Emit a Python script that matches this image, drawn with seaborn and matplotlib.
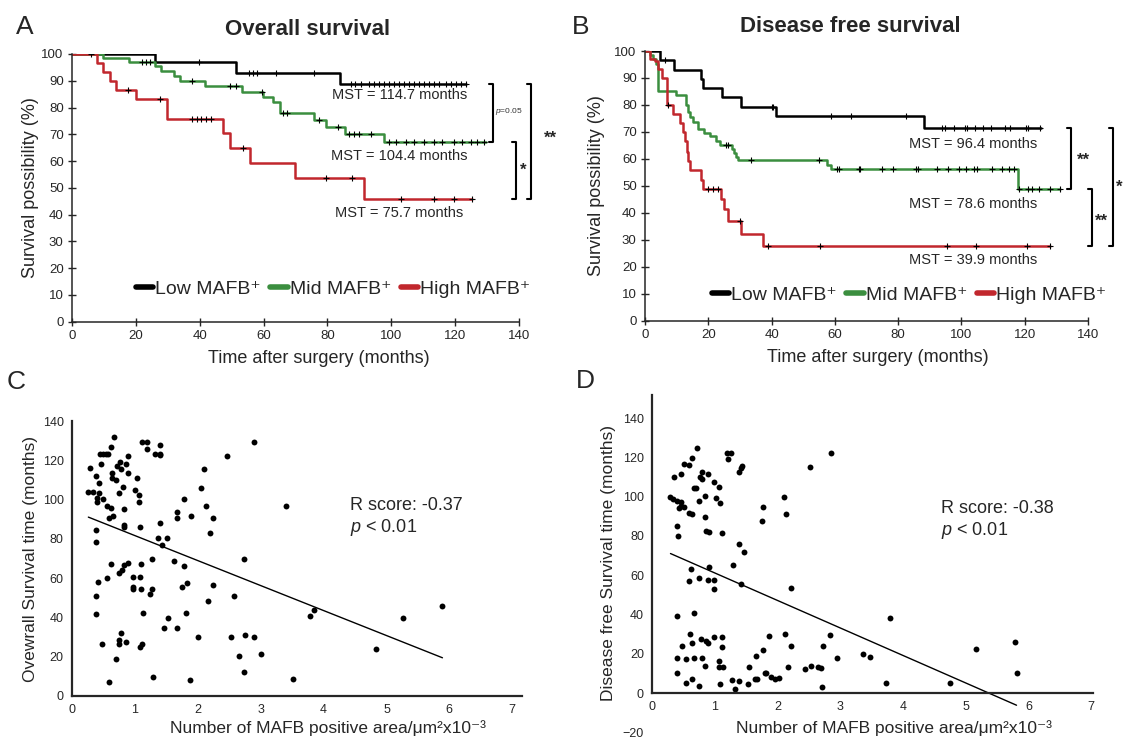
import numpy as np
import pandas as pd
import matplotlib
matplotlib.use('Agg')
import matplotlib.pyplot as plt
import seaborn as sns

# ---- panel A: overall survival (step times in months, survival in %) ----
os_low_t = [0, 25.9, 51.5, 83.8, 123.5]
os_low_s = [100, 96.9, 92.9, 88.7, 88.7]
os_low_cens = [39.8, 55.4, 56.7, 57.9, 63.8, 75.9, 87.4, 88.6, 90.5, 93.1, 94.7, 96.3, 97.8,
               99.4, 100.9, 102.5, 104.1, 105.6, 107.2, 108.8, 110.3, 111.9, 113.4, 115.0,
               117.1, 118.6, 120.2, 121.8, 123.3]

os_mid_t = [0, 9.6, 17.9, 25.9, 28.0, 32.0, 33.8, 41.8, 53.3, 59.8, 62.9, 65.2, 75.9, 79.6,
            85.5, 97.6, 129.6]
os_mid_s = [100, 98.5, 96.9, 95.4, 93.8, 91.9, 89.9, 88.0, 85.8, 83.9, 82.0, 77.8, 75.3, 72.7,
            70.2, 67.1, 67.1]
os_mid_cens = [21.8, 23.1, 24.4, 37.7, 49.6, 51.5, 59.6, 66.0, 67.4, 77.5, 83.2, 86.9, 88.4,
               90.0, 93.6, 99.4, 101.5, 104.6, 107.2, 110.3, 113.4, 116.0, 119.7, 122.3, 124.9,
               127.0, 129.1]

os_high_t = [0, 7.7, 9.6, 11.9, 13.8, 20.2, 29.9, 47.3, 49.6, 55.6, 69.9, 91.4, 125.4]
os_high_s = [100, 96.7, 93.4, 90.0, 86.7, 83.3, 75.6, 70.4, 64.9, 59.3, 53.6, 45.9, 45.9]
os_high_cens = [5.8, 17.6, 27.5, 37.6, 39.0, 40.5, 42.1, 43.6, 53.5, 79.4, 87.7, 103.0, 113.4,
                119.7, 125.4]

# ---- panel B: disease free survival ----
dfs_low_t = [0, 4.7, 9.2, 17.6, 18.2, 24.4, 30.4, 41.4, 88.3, 125.0]
dfs_low_s = [100, 96.6, 93.1, 89.7, 86.2, 82.8, 79.3, 75.8, 71.6, 71.6]
dfs_low_cens = [6.3, 40.1, 40.6, 58.7, 65.0, 82.6, 93.8, 94.9, 97.5, 101.2, 101.7, 104.3, 106.9,
                109.5, 113.7, 115.3, 120.5, 121.1, 124.7]

dfs_mid_t = [0, 1.5, 2.6, 3.4, 4.1, 9.8, 12.9, 13.7, 14.3, 15.2, 16.9, 18.6, 20.4, 22.4, 23.8,
             27.5, 28.1, 28.9, 29.5, 57.6, 58.7, 117.8, 131.0]
dfs_mid_s = [100, 98.5, 97.0, 95.0, 85.1, 83.5, 79.8, 77.5, 75.5, 73.5, 71.0, 69.7, 68.3, 66.5,
             65.0, 63.5, 62.0, 60.5, 59.6, 57.8, 56.2, 48.8, 48.8]
dfs_mid_cens = [25.5, 26.3, 33.5, 54.9, 60.6, 61.3, 67.5, 68.0, 75.0, 78.5, 85.6, 86.2, 92.4,
                95.8, 99.3, 101.6, 104.1, 105.0, 109.6, 112.8, 115.0, 116.7, 118.2, 121.0,
                122.2, 124.5, 127.9, 131.0]

dfs_high_t = [0, 1.5, 3.1, 4.1, 5.5, 6.9, 8.9, 11.0, 12.0, 12.6, 13.2, 13.7, 14.2, 17.6, 18.3,
              24.1, 24.9, 26.1, 30.3, 37.3, 127.9]
dfs_high_s = [100, 97.0, 96.4, 93.5, 90.0, 80.0, 76.6, 73.3, 70.0, 66.6, 62.5, 59.2, 55.8, 52.3,
              48.8, 45.0, 41.4, 37.0, 32.0, 27.5, 27.5]
dfs_high_cens = [7.4, 19.8, 21.5, 23.2, 30.1, 38.9, 55.3, 95.3, 104.5, 120.8, 127.9]

groups = ['Low MAFB⁺', 'Mid MAFB⁺', 'High MAFB⁺']
colors = ['#000000', '#3b8e3f', '#c1272d']
os_mst = ['MST = 114.7 months', 'MST = 104.4 months', 'MST = 75.7 months']
dfs_mst = ['MST = 96.4 months', 'MST = 78.6 months', 'MST = 39.9 months']

# ---- panel C: MAFB area vs overall survival time ----
c_x = [0.67, 1.12, 1.20, 2.90, 1.40, 0.62, 1.19, 0.45, 0.50, 0.54, 0.58, 1.32, 1.40, 1.40, 0.89,
       2.46, 0.46, 0.76, 0.86, 0.72, 0.78, 0.29, 2.10, 0.64, 0.89, 0.38, 0.43, 0.64, 0.70, 1.03,
       0.81, 0.43, 0.74, 0.26, 0.33, 1.00, 1.06, 2.05, 0.39, 0.39, 0.49, 1.07, 0.83, 0.56, 0.62,
       0.59, 0.65, 1.78, 2.13, 1.67, 1.67, 1.89, 2.24, 0.83, 0.83, 1.08, 1.40, 0.38, 0.38, 2.19,
       1.37, 1.51, 1.43, 1.27, 1.62, 1.78, 2.73, 0.62, 0.74, 0.80, 0.83, 0.89, 1.10, 0.97, 1.08,
       0.97, 0.97, 1.10, 1.27, 1.24, 0.56, 0.42, 1.75, 1.83, 2.24, 2.57, 2.16, 0.38, 0.38, 1.13,
       1.81, 1.53, 1.46, 1.67, 0.48, 0.74, 0.74, 0.78, 0.86, 1.08, 1.11, 2.00, 2.53, 2.75, 2.89,
       2.66, 3.00, 0.70, 2.73, 1.29, 1.87, 0.59, 3.40, 3.79, 3.84, 5.27, 5.89, 4.84, 3.51]
c_y = [132.0, 129.5, 129.5, 129.5, 127.8, 126.8, 125.9, 123.4, 123.4, 123.4, 123.4, 123.4, 123.4,
       122.5, 122.3, 122.3, 118.1, 119.0, 118.1, 117.3, 115.4, 116.2, 115.4, 113.7, 113.7, 112.0,
       108.6, 110.8, 110.0, 111.0, 106.6, 103.2, 103.2, 104.0, 104.0, 104.9, 102.3, 105.7, 100.6,
       98.9, 100.5, 98.8, 95.2, 96.9, 95.9, 90.8, 91.6, 100.5, 96.9, 93.5, 90.8, 91.6, 90.8, 87.1,
       86.2, 86.2, 88.2, 84.5, 78.4, 82.8, 80.3, 80.3, 76.9, 69.7, 68.7, 66.2, 69.7, 67.0, 62.6,
       64.1, 66.7, 67.7, 67.0, 60.7, 60.7, 55.7, 54.6, 54.5, 54.5, 51.9, 59.9, 58.2, 55.5, 57.4,
       56.3, 51.1, 48.4, 51.1, 41.6, 42.4, 42.4, 39.7, 34.4, 34.4, 26.5, 28.5, 26.5, 31.9, 27.3,
       24.8, 26.3, 30.0, 30.0, 30.9, 30.0, 20.4, 21.2, 18.7, 12.4, 9.8, 8.1, 7.1, 96.9, 40.6, 43.8,
       39.5, 45.8, 23.8, 8.8]

# ---- panel D: MAFB area vs disease free survival time ----
d_x = [0.71, 1.19, 1.25, 1.20, 0.64, 0.50, 0.58, 1.38, 1.43, 1.42, 0.34, 0.46, 0.80, 0.76, 0.89,
       0.79, 0.98, 1.06, 1.08, 0.66, 0.70, 0.29, 0.33, 0.39, 0.46, 0.46, 0.42, 0.51, 0.58, 0.64,
       0.75, 0.84, 1.02, 0.84, 0.85, 0.90, 0.40, 0.41, 1.11, 2.10, 2.13, 1.77, 1.75, 1.39, 1.47,
       0.90, 1.29, 0.62, 0.59, 0.74, 0.89, 0.99, 0.99, 1.41, 2.22, 0.40, 0.66, 0.60, 0.47, 0.53,
       0.66, 0.79, 0.84, 0.40, 0.40, 0.63, 0.77, 0.85, 0.89, 0.98, 1.11, 1.11, 1.07, 1.07, 1.12,
       0.54, 0.63, 0.75, 1.08, 1.27, 1.32, 1.39, 1.52, 1.54, 1.64, 1.67, 1.65, 1.77, 1.79, 1.81,
       1.86, 1.89, 1.96, 2.02, 2.12, 2.17, 2.22, 2.44, 2.53, 2.64, 2.69, 2.73, 2.83, 2.95, 2.71,
       2.85, 2.51, 3.79, 3.36, 3.47, 3.73, 4.75, 5.17, 5.79, 5.81]
d_y = [124.6, 122.1, 122.1, 119.0, 119.5, 116.6, 116.1, 112.3, 115.7, 114.7, 109.8, 111.3, 112.3,
       110.1, 111.5, 109.1, 107.6, 104.7, 96.9, 104.5, 104.2, 99.9, 98.8, 97.7, 97.4, 95.2, 94.3,
       94.5, 91.5, 91.0, 97.6, 100.5, 99.1, 89.8, 82.6, 81.8, 85.2, 80.1, 81.6, 99.6, 91.0, 94.5,
       87.7, 75.7, 71.9, 64.3, 65.3, 63.0, 57.2, 58.5, 57.5, 57.5, 52.9, 55.7, 53.5, 39.2, 40.7,
       29.9, 24.1, 17.3, 18.0, 17.6, 13.9, 17.6, 10.0, 25.3, 27.3, 26.6, 25.6, 28.3, 28.7, 23.6,
       16.5, 13.1, 13.4, 5.3, 7.0, 3.7, 4.4, 6.6, 1.9, 6.3, 4.4, 13.1, 7.3, 7.0, 18.7, 21.9, 10.4,
       10.4, 29.0, 8.0, 7.0, 7.5, 29.9, 13.1, 23.9, 12.0, 13.9, 13.1, 12.6, 24.1, 29.5, 17.6, 2.9,
       122.1, 114.9, 38.0, 19.7, 18.2, 5.3, 5.3, 22.2, 25.8, 10.0]

sns.set_style('ticks')
plt.rcParams['font.family'] = ['Liberation Sans', 'DejaVu Sans']
plt.rcParams['mathtext.fontset'] = 'custom'
plt.rcParams['mathtext.rm'] = 'Liberation Sans'
plt.rcParams['mathtext.it'] = 'Liberation Sans:italic'

W, H = 1127, 740
fig = plt.figure(figsize=(W / 100, H / 100), dpi=100)


def px_axes(left, top, right, bottom):
    return fig.add_axes([left / W, 1 - bottom / H, (right - left) / W, (bottom - top) / H])


def km(ax, t, s, cens, color, label):
    df = pd.DataFrame({'months': t, 'surv': s})
    sns.lineplot(data=df, x='months', y='surv', drawstyle='steps-post', estimator=None,
                 sort=False, color=color, linewidth=1.8, label=label, ax=ax)
    cy = np.asarray(s)[np.searchsorted(t, cens, side='right') - 1]
    ax.plot(cens, cy, ls='none', marker='+', ms=5, mew=0.8, color='black', zorder=5)


def bracket(ax, x, y1, y2, d=1.3):
    ax.plot([x - d, x, x, x - d], [y1, y1, y2, y2], color='black', lw=1.5, clip_on=False)


def km_panel(ax, curves, msts, mst_x, mst_y, title, title_x, leg_xy):
    for (t, s, c), col, lab in zip(curves, colors, groups):
        km(ax, t, s, c, col, lab)
    ax.set_xlim(0, 140)
    ax.set_ylim(0, 100)
    ax.set_xticks(range(0, 141, 20))
    ax.set_yticks(range(0, 101, 10))
    ax.tick_params(direction='inout', length=6, width=1, labelsize=9.5, pad=3)
    sns.despine(ax=ax)
    for sp in ['left', 'bottom']:
        ax.spines[sp].set_linewidth(1.1)
    for txt, yy in zip(msts, mst_y):
        ax.text(mst_x, yy, txt, ha='center', va='center', fontsize=10.5)
    ax.set_xlabel('Time after surgery (months)', fontsize=13)
    ax.set_ylabel('Survival possibility (%)', fontsize=13)
    ax.text(title_x, 1.09, title, transform=ax.transAxes, ha='center', va='center',
            fontsize=16, fontweight='bold')
    leg = ax.legend(loc='center', bbox_to_anchor=leg_xy, ncol=3, frameon=False, fontsize=14,
                    handlelength=0.9, handletextpad=0.1, columnspacing=0.5, borderaxespad=0)
    for h in leg.legend_handles:
        h.set_linewidth(4)


# panel A
axA = px_axes(72, 54, 519, 321.5)
km_panel(axA, [(os_low_t, os_low_s, os_low_cens), (os_mid_t, os_mid_s, os_mid_cens),
               (os_high_t, os_high_s, os_high_cens)],
         os_mst, 102.5, [84.7, 62.0, 40.6], 'Overall survival', 0.526, (0.584, 0.121))
axA.xaxis.set_label_coords(0.553, -0.107)
axA.yaxis.set_label_coords(-0.074, 0.5)
a_end = [os_low_s[-1], os_mid_s[-1], os_high_s[-1]]
bracket(axA, 131.9, a_end[0], a_end[1])
bracket(axA, 139.1, a_end[1], a_end[2])
bracket(axA, 143.9, a_end[0], a_end[2])
axA.text(136.7, 78.5, '$p$=0.05', fontsize=6, ha='center', va='center', color='#333333')
axA.text(141.2, 56.5, '*', fontsize=12, ha='center', va='center', fontweight='bold')
axA.text(149.8, 68.5, '**', fontsize=12, ha='center', va='center', fontweight='bold')

# panel B
axB = px_axes(645, 51, 1088, 320.5)
km_panel(axB, [(dfs_low_t, dfs_low_s, dfs_low_cens), (dfs_mid_t, dfs_mid_s, dfs_mid_cens),
               (dfs_high_t, dfs_high_s, dfs_high_cens)],
         dfs_mst, 103.7, [65.5, 43.1, 22.4], 'Disease free survival', 0.463, (0.596, 0.095))
axB.xaxis.set_label_coords(0.526, -0.106)
axB.yaxis.set_label_coords(-0.09, 0.5)
b_end = [dfs_low_s[-1], dfs_mid_s[-1], dfs_high_s[-1]]
bracket(axB, 134.7, b_end[0], b_end[1])
bracket(axB, 141.2, b_end[1], b_end[2])
bracket(axB, 147.8, b_end[0], b_end[2])
axB.text(138.6, 59.5, '**', fontsize=12, ha='center', va='center', fontweight='bold')
axB.text(144.2, 37.0, '**', fontsize=12, ha='center', va='center', fontweight='bold')
axB.text(149.8, 49.5, '*', fontsize=12, ha='center', va='center', fontweight='bold')


def scatter_panel(ax, x, y):
    sns.scatterplot(x=x, y=y, color='black', s=18, linewidth=0, ax=ax)
    sns.regplot(x=x, y=y, scatter=False, ci=None, color='black',
                line_kws={'linewidth': 1.0}, ax=ax)
    sns.despine(ax=ax)
    for sp in ['left', 'bottom']:
        ax.spines[sp].set_linewidth(1.6)
    ax.tick_params(length=0, labelsize=9, pad=6)
    ax.set_xticks(range(0, 8))
    ax.set_xlabel('Number of MAFB positive area/μm²x10⁻³', fontsize=12.5)
    return ax


# panel C
axC = px_axes(72, 421, 521.7, 696)
scatter_panel(axC, c_x, c_y)
axC.set_xlim(0, 7.15)
axC.set_ylim(0, 140)
axC.set_yticks(range(0, 141, 20))
axC.set_ylabel('Ovewrall Survival time (months)', fontsize=12.5)
axC.xaxis.set_label_coords(0.569, -0.088)
axC.yaxis.set_label_coords(-0.076, 0.5)
axC.text(0.618, 0.724, 'R score: -0.37\n$p$ < 0.01', transform=axC.transAxes, ha='left',
         va='top', fontsize=13, linespacing=1.2)

# panel D
axD = px_axes(652.3, 394.5, 1093, 732.3)
scatter_panel(axD, d_x, d_y)
axD.set_xlim(0, 7.03)
axD.set_ylim(-20, 152)
axD.set_yticks(range(-20, 141, 20))
axD.spines['bottom'].set_position(('data', 0))
axD.spines['left'].set_bounds(0, 152)
axD.set_ylabel('Disease free Survival time (months)', fontsize=12.5)
axD.xaxis.set_label_coords(0.548, 0.037)
axD.yaxis.set_label_coords(-0.082, 0.5)
axD.text(0.654, 0.688, 'R score: -0.38\n$p$ < 0.01', transform=axD.transAxes, ha='left',
         va='top', fontsize=13, linespacing=1.2)

for letter, (lx, ly) in zip('ABCD', [(25, 27), (581, 27), (16, 382), (585, 381)]):
    fig.text(lx / W, 1 - ly / H, letter, fontsize=19, ha='center', va='center')

fig.savefig('out.png', dpi=100)
